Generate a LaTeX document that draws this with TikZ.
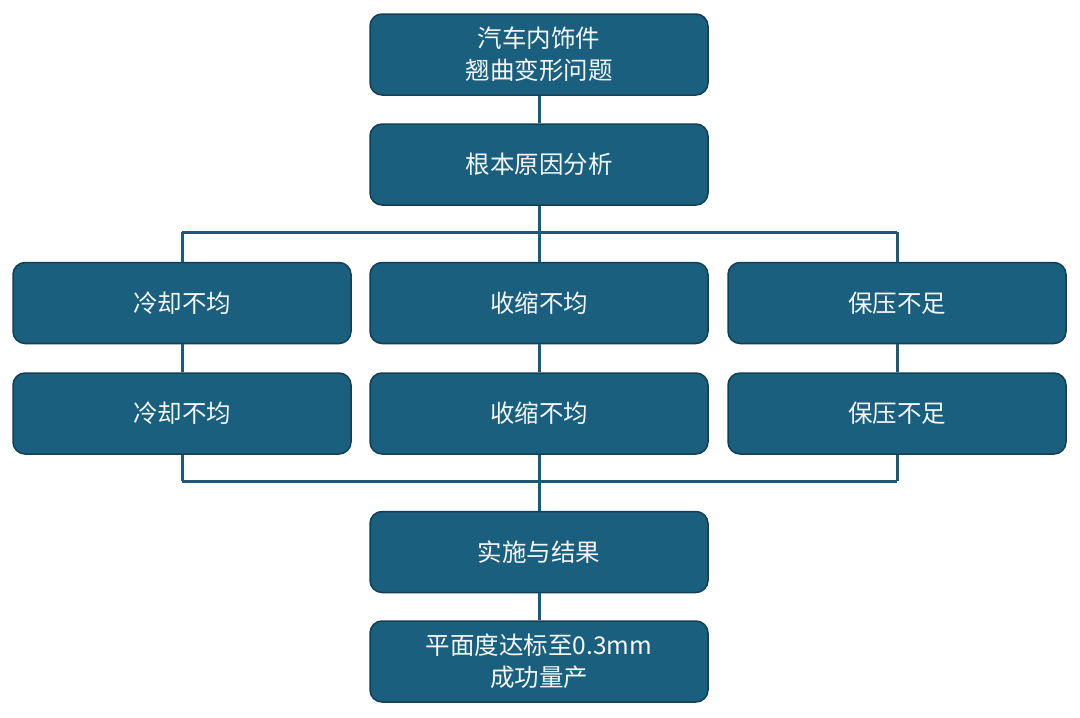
\documentclass[tikz,border=0pt]{standalone}
\usepackage{fontspec}
\setmainfont{Noto Sans CJK SC}
\definecolor{boxfill}{HTML}{1B5F7E}
\definecolor{boxedge}{HTML}{123F54}
\definecolor{linecol}{HTML}{1C5A78}
\definecolor{txt}{HTML}{F2F7FA}
\begin{document}
\begin{tikzpicture}[x=1pt,y=-1pt,
  box/.style={draw=boxedge, line width=1.5pt, fill=boxfill, rounded corners=12pt,
    minimum width=338pt, minimum height=81pt, inner sep=0pt, text=txt,
    font=\fontsize{24.5}{32}\selectfont, align=center},
  conn/.style={draw=linecol, line width=3pt}]
\useasboundingbox (0,0) rectangle (1080,718);
\node[box] (top) at (539,54.5) {汽车内饰件\\翘曲变形问题};
\node[box] (rca) at (539,164.5) {根本原因分析};
\node[box] (a1) at (182,303) {冷却不均};
\node[box] (b1) at (539,303) {收缩不均};
\node[box] (c1) at (897,303) {保压不足};
\node[box] (a2) at (182,413.5) {冷却不均};
\node[box] (b2) at (539,413.5) {收缩不均};
\node[box] (c2) at (897,413.5) {保压不足};
\node[box] (impl) at (539,552) {实施与结果};
\node[box] (res) at (539,661.5) {平面度达标至0.3mm\\成功量产};
\coordinate (railA) at (0,232);
\coordinate (railB) at (0,481);
\draw[conn] (top.south) -- (rca.north);
\draw[conn] (rca.south) -- (rca.south |- railA);
\draw[conn] (a1.north |- railA) -- (c1.north |- railA);
\draw[conn] (a1.north) -- (a1.north |- railA);
\draw[conn] (c1.north) -- (c1.north |- railA);
\draw[conn] (b1.north) -- (b1.north |- railA);
\draw[conn] (a1.south) -- (a2.north);
\draw[conn] (b1.south) -- (b2.north);
\draw[conn] (c1.south) -- (c2.north);
\draw[conn] (a2.south) -- (a2.south |- railB);
\draw[conn] (b2.south) -- (impl.north);
\draw[conn] (c2.south) -- (c2.south |- railB);
\draw[conn] (a2.south |- railB) -- (c2.south |- railB);
\draw[conn] (impl.south) -- (res.north);
\end{tikzpicture}
\end{document}
